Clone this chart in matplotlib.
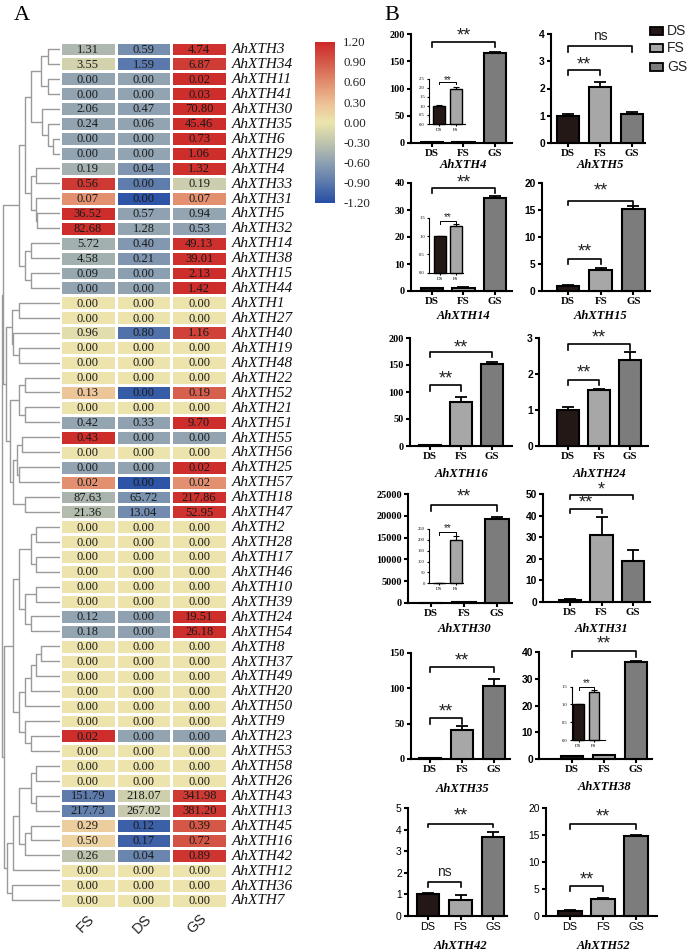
import numpy as np
import matplotlib
matplotlib.use('Agg')
import matplotlib.pyplot as plt
from matplotlib.colors import LinearSegmentedColormap
from matplotlib.patches import Rectangle
from matplotlib.cm import ScalarMappable
from matplotlib.colors import Normalize

# ---------------- data: heatmap ----------------
genes = ['AhXTH3', 'AhXTH34', 'AhXTH11', 'AhXTH41', 'AhXTH30', 'AhXTH35', 'AhXTH6', 'AhXTH29',
         'AhXTH4', 'AhXTH33', 'AhXTH31', 'AhXTH5', 'AhXTH32', 'AhXTH14', 'AhXTH38', 'AhXTH15',
         'AhXTH44', 'AhXTH1', 'AhXTH27', 'AhXTH40', 'AhXTH19', 'AhXTH48', 'AhXTH22', 'AhXTH52',
         'AhXTH21', 'AhXTH51', 'AhXTH55', 'AhXTH56', 'AhXTH25', 'AhXTH57', 'AhXTH18', 'AhXTH47',
         'AhXTH2', 'AhXTH28', 'AhXTH17', 'AhXTH46', 'AhXTH10', 'AhXTH39', 'AhXTH24', 'AhXTH54',
         'AhXTH8', 'AhXTH37', 'AhXTH49', 'AhXTH20', 'AhXTH50', 'AhXTH9', 'AhXTH23', 'AhXTH53',
         'AhXTH58', 'AhXTH26', 'AhXTH43', 'AhXTH13', 'AhXTH45', 'AhXTH16', 'AhXTH42', 'AhXTH12',
         'AhXTH36', 'AhXTH7']
stages = ['FS', 'DS', 'GS']
FS = [1.31, 3.55, 0.00, 0.00, 2.06, 0.24, 0.00, 0.00, 0.19, 0.56, 0.07, 36.52, 82.68, 5.72, 4.58, 0.09,
      0.00, 0.00, 0.00, 0.96, 0.00, 0.00, 0.00, 0.13, 0.00, 0.42, 0.43, 0.00, 0.00, 0.02, 87.63, 21.36,
      0.00, 0.00, 0.00, 0.00, 0.00, 0.00, 0.12, 0.18, 0.00, 0.00, 0.00, 0.00, 0.00, 0.00, 0.02, 0.00,
      0.00, 0.00, 151.79, 217.73, 0.29, 0.50, 0.26, 0.00, 0.00, 0.00]
DS = [0.59, 1.59, 0.00, 0.00, 0.47, 0.06, 0.00, 0.00, 0.04, 0.00, 0.00, 0.57, 1.28, 0.40, 0.21, 0.00,
      0.00, 0.00, 0.00, 0.80, 0.00, 0.00, 0.00, 0.00, 0.00, 0.33, 0.00, 0.00, 0.00, 0.00, 65.72, 13.04,
      0.00, 0.00, 0.00, 0.00, 0.00, 0.00, 0.00, 0.00, 0.00, 0.00, 0.00, 0.00, 0.00, 0.00, 0.00, 0.00,
      0.00, 0.00, 218.07, 267.02, 0.12, 0.17, 0.04, 0.00, 0.00, 0.00]
GS = [4.74, 6.87, 0.02, 0.03, 70.80, 45.46, 0.73, 1.06, 1.32, 0.19, 0.07, 0.94, 0.53, 49.13, 39.01, 2.13,
      1.42, 0.00, 0.00, 1.16, 0.00, 0.00, 0.00, 0.19, 0.00, 9.70, 0.00, 0.00, 0.02, 0.02, 217.86, 52.95,
      0.00, 0.00, 0.00, 0.00, 0.00, 0.00, 19.51, 26.18, 0.00, 0.00, 0.00, 0.00, 0.00, 0.00, 0.00, 0.00,
      0.00, 0.00, 341.98, 381.20, 0.39, 0.72, 0.89, 0.00, 0.00, 0.00]
cbar_ticks = [1.2, 0.9, 0.6, 0.3, 0.0, -0.3, -0.6, -0.9, -1.2]


# dendrogram merges: (merge position in px from left, child, child); ints are leaf rows
def N(x, a, b):
    return (x, a, b)


top_a = N(41, N(48, 0, 1), N(48, 2, 3))
top_b = N(42, 4, N(48, 5, N(53, 6, 7)))
top_c = N(31, N(36, 8, 9), N(36, 10, N(37, 11, 12)))
top_d = N(25, N(31, 13, 14), N(31, 15, 16))
seg1 = N(19, N(25, N(31, top_a, top_b), top_c), top_d)

mid_e = N(12, N(19, 17, 18), N(13, 19, N(19, 20, 21)))
mid_f = N(19, N(25, 22, 23), N(25, 24, 25))
mid_g = N(13, N(17, N(22, 26, 27), N(19, 28, 29)), N(25, 30, 31))
seg2 = N(6, mid_e, N(10, mid_f, mid_g))

low_p = N(19, N(31, N(36, 32, 33), N(36, 34, 35)), N(25, N(36, 36, 37), N(31, 38, 39)))
low_q = N(19, N(25, N(31, N(36, N(41, 40, 41), 42), 43), 44), N(25, 45, N(31, 46, 47)))
low_r = N(19, N(31, N(36, 48, 49), N(36, 50, 51)), N(25, N(31, 52, 53), 54))
seg3 = N(4, N(13, low_p, low_q), N(7, N(13, low_r, 55), N(12, 56, 57)))
tree = N(2, N(3, seg1, seg2), seg3)

# ---------------- data: bar charts ----------------
bar_genes = ['AhXTH4', 'AhXTH5', 'AhXTH14', 'AhXTH15', 'AhXTH16', 'AhXTH24',
             'AhXTH30', 'AhXTH31', 'AhXTH35', 'AhXTH38', 'AhXTH42', 'AhXTH52']
bar_cats = ['DS', 'FS', 'GS']
bar_means = [[1.0, 1.95, 165.0], [1.0, 2.05, 1.05], [1.0, 1.27, 34.4], [1.0, 3.8, 15.2],
             [1.0, 82.0, 151.0], [1.0, 1.55, 2.38], [1.0, 200.0, 19300.0], [1.0, 31.0, 19.2],
             [1.0, 41.0, 104.0], [1.0, 1.35, 36.3], [1.0, 0.75, 3.68], [1.0, 3.2, 14.8]]
bar_errs = [[0.1, 0.1, 2.0], [0.08, 0.2, 0.08], [0.02, 0.05, 0.8], [0.05, 0.4, 0.5],
            [0.1, 9.0, 4.0], [0.07, 0.03, 0.22], [0.1, 15.0, 500.0], [0.3, 8.5, 5.0],
            [0.1, 5.0, 9.0], [0.02, 0.05, 0.4], [0.08, 0.22, 0.2], [0.1, 0.15, 0.2]]
bar_ymax = [200, 4, 40, 20, 200, 3, 25000, 50, 150, 40, 5, 20]
bar_ystep = [50, 1, 10, 5, 50, 1, 5000, 10, 50, 10, 1, 5]
# significance: (i, j, line level, drop level, label, label level)
bar_sig = [[(0, 2, 185, 176, '**', 197)],
           [(0, 2, 3.56, 3.35, 'ns', 3.92), (0, 1, 2.68, 2.5, '**', 2.88)],
           [(0, 2, 38.3, 36.4, '**', 40.0)],
           [(0, 2, 16.7, 15.9, '**', 18.6), (0, 1, 5.9, 5.0, '**', 7.2)],
           [(0, 2, 173.5, 165, '**', 182), (0, 1, 113, 102, '**', 125)],
           [(0, 2, 2.83, 2.67, '**', 2.99), (0, 1, 1.83, 1.69, '**', 2.02)],
           [(0, 2, 22477, 21170, '**', 24400)],
           [(0, 2, 49.5, 47.5, '*', 51.8), (0, 1, 43, 41, '**', 46.0)],
           [(0, 2, 130, 123, '**', 139), (0, 1, 57.4, 50, '**', 66)],
           [(0, 2, 40.3, 38, '**', 43.0)],
           [(0, 2, 4.26, 4.1, '**', 4.62), (0, 1, 1.58, 1.35, 'ns', 2.02)],
           [(0, 2, 17.0, 16.1, '**', 18.4), (0, 1, 5.5, 4.65, '**', 6.6)]]
# insets (DS, FS)
inset_genes = ['AhXTH4', 'AhXTH14', 'AhXTH30', 'AhXTH38']
inset_means = [[1.0, 1.95], [1.0, 1.27], [1.0, 200.0], [1.0, 1.35]]
inset_errs = [[0.08, 0.12], [0.01, 0.05], [0.1, 18.0], [0.01, 0.06]]
inset_ymax = [2.5, 1.5, 250, 1.5]
inset_ystep = [0.5, 0.5, 50, 0.5]
inset_sig = [(0, 1, 2.33, 2.2, '**', 2.45), (0, 1, 1.42, 1.33, '**', 1.53),
             (0, 1, 237, 222, '**', 255), (0, 1, 1.5, 1.42, '**', 1.6)]

# ---------------- layout / style ----------------
W, H = 688, 952
fig = plt.figure(figsize=(W / 100, H / 100), dpi=100)
SERIF = ['Liberation Serif', 'DejaVu Serif']
SANS = ['Liberation Sans', 'DejaVu Sans']


def add_ax(l, t, r, b):
    return fig.add_axes([l / W, 1 - b / H, (r - l) / W, (b - t) / H])


cmap = LinearSegmentedColormap.from_list('hm', [
    (0.000, (38 / 255, 78 / 255, 165 / 255)),
    (0.125, (92 / 255, 122 / 255, 172 / 255)),
    (0.250, (142 / 255, 161 / 255, 178 / 255)),
    (0.375, (192 / 255, 197 / 255, 173 / 255)),
    (0.500, (236 / 255, 229 / 255, 172 / 255)),
    (0.625, (236 / 255, 190 / 255, 148 / 255)),
    (0.750, (225 / 255, 140 / 255, 108 / 255)),
    (0.875, (212 / 255, 88 / 255, 72 / 255)),
    (1.000, (204 / 255, 40 / 255, 40 / 255))])

# ---------------- heatmap ----------------
vals = np.array([FS, DS, GS]).T
mu = vals.mean(axis=1, keepdims=True)
sd = vals.std(axis=1, ddof=1, keepdims=True)
z = np.where(sd > 0, (vals - mu) / np.where(sd > 0, sd, 1), 0.0)

HM_L, HM_T, HM_R, HM_B = 60, 41.5, 227, 907.7
axh = add_ax(HM_L, HM_T, HM_R, HM_B)
nrow = len(genes)
axh.pcolormesh(np.arange(4), np.arange(nrow + 1), z, cmap=cmap, vmin=-1.2, vmax=1.2,
               edgecolors='white', linewidth=0.9)
axh.set_xlim(0, 3)
axh.set_ylim(nrow, 0)
axh.axis('off')
for i in range(nrow):
    for j in range(3):
        axh.text(j + 0.5, i + 0.55, f'{vals[i, j]:.2f}', ha='center', va='center',
                 fontsize=9, family=SERIF, color='#1a1a1a')
    axh.text(3.09, i + 0.55, genes[i], ha='left', va='center', fontsize=11,
             family=SERIF, style='italic', color='#111111', clip_on=False)

for lab, xp in zip(stages, [86, 142, 197]):
    fig.text(xp / W, 1 - 924 / H, lab, rotation=45, ha='center', va='center',
             fontsize=10.5, family=SANS, color='#222222')

# dendrogram
axd = add_ax(0, HM_T, HM_L, HM_B)
axd.set_xlim(0, HM_L)
axd.set_ylim(nrow, 0)
axd.axis('off')
DCOL = '#9a9a9a'


def draw(node):
    if isinstance(node, int):
        return node + 0.5, HM_L
    x, a, b = node
    ya, xa = draw(a)
    yb, xb = draw(b)
    axd.plot([xa, x, x, xb], [ya, ya, yb, yb], color=DCOL, lw=1.0, solid_capstyle='butt')
    return (ya + yb) / 2, x


draw(tree)

# colorbar
axc = add_ax(315, 41.7, 335, 202.7)
sm = ScalarMappable(norm=Normalize(-1.2, 1.2), cmap=cmap)
cb = fig.colorbar(sm, cax=axc, ticks=cbar_ticks)
cb.outline.set_visible(False)
axc.tick_params(length=0, pad=6)
axc.set_yticklabels([f'{t:.2f}' for t in cbar_ticks], fontsize=9.3, family=SERIF, color='#222222')

fig.text(22 / W, 1 - 16 / H, 'A', fontsize=16, family=SERIF, ha='center', va='center')
fig.text(392 / W, 1 - 15 / H, 'B', fontsize=16, family=SERIF, ha='center', va='center')

# ---------------- bar charts ----------------
BAR_COLORS = ['#231815', '#a7a7a7', '#7c7c7c']
# (left px, right px, top px, bottom px, DS centre px, spacing px, title offset px)
bar_boxes = [(411, 512, 34, 143, 432, 31.5, 22), (551, 645, 34, 143, 568, 32, 22),
             (411, 512, 183, 291, 432, 31.5, 25), (542, 650, 183, 291, 568, 32.7, 25),
             (410, 512, 338, 446, 430, 31, 28), (539, 648, 338, 446, 568, 31, 28),
             (408, 512, 494, 603, 431, 33, 26), (543, 650, 494, 602, 570, 31.5, 27),
             (411, 510, 653, 759, 430, 32, 30), (539, 652, 652, 759, 572, 32, 28),
             (408, 507, 808, 916, 428, 32.5, 30), (546, 657, 808, 916, 570, 33, 30)]
ytick_font = [SERIF] * 12
ytick_weight = ['bold'] * 12
xtick_font = [SERIF] * 12
xtick_weight = ['bold'] * 12
for k in (1, 3, 5, 7, 9):
    ytick_font[k] = SANS
ytick_font[10] = SANS; ytick_weight[10] = 'normal'
ytick_font[11] = SANS; ytick_weight[11] = 'normal'
xtick_font[10] = SANS; xtick_weight[10] = 'normal'
xtick_font[11] = SANS; xtick_weight[11] = 'normal'


def style_bar_axes(ax, lw, tl):
    for s in ('top', 'right'):
        ax.spines[s].set_visible(False)
    for s in ('left', 'bottom'):
        ax.spines[s].set_linewidth(lw)
    ax.tick_params(direction='out', width=lw, length=tl, pad=1.5)
    ax.patch.set_alpha(0)


def draw_sig(ax, sig, lw, fs):
    i, j, yl, yd, lab, yt = sig
    ax.plot([i, i, j, j], [yd, yl, yl, yd], color='black', lw=lw, clip_on=False)
    ax.text((i + j) / 2, yt, lab, ha='center', va='center', fontsize=fs,
            family=SANS, clip_on=False, color='#222222')


for k, g in enumerate(bar_genes):
    L, R, T, B, c0, sp, toff = bar_boxes[k]
    ax = add_ax(L, T, R, B)
    x = np.arange(3)
    ax.bar(x, bar_means[k], width=0.7, color=BAR_COLORS, edgecolor='black', linewidth=1.5,
           clip_on=False, zorder=3)
    ax.errorbar(x, bar_means[k], yerr=[[0, 0, 0], bar_errs[k]], fmt='none', ecolor='black',
                elinewidth=1.3, capsize=4.5, capthick=1.3, zorder=2, clip_on=False)
    ax.set_xlim((L - c0) / sp, (R - c0) / sp)
    ax.set_ylim(0, bar_ymax[k])
    ax.set_yticks(np.arange(0, bar_ymax[k] + bar_ystep[k] / 2, bar_ystep[k]))
    ax.set_yticklabels([f'{v:g}' for v in ax.get_yticks()], fontsize=7.4,
                       family=ytick_font[k], fontweight=ytick_weight[k])
    ax.set_xticks(x)
    ax.set_xticklabels(bar_cats, fontsize=7.8, family=xtick_font[k], fontweight=xtick_weight[k])
    style_bar_axes(ax, 1.5, 3)
    for s in bar_sig[k]:
        draw_sig(ax, s, 1.2, 13 if s[4] != 'ns' else 10)
    fig.text((c0 + sp) / W, 1 - (B + toff) / H, g, ha='center', va='center', fontsize=9,
             family=SERIF, style='italic', fontweight='bold')

# insets
inset_boxes = [(429, 465, 79, 124, 439, 17), (429, 463, 217.7, 272.7, 440, 16),
               (429, 463, 529, 583.3, 439, 17), (571.7, 605, 686.7, 740, 578.5, 15.5)]
for k, g in enumerate(inset_genes):
    L, R, T, B, c0, sp = inset_boxes[k]
    ax = add_ax(L, T, R, B)
    x = np.arange(2)
    ax.bar(x, inset_means[k], width=0.7, color=BAR_COLORS[:2], edgecolor='black', linewidth=1.0,
           zorder=3, clip_on=False)
    ax.errorbar(x, inset_means[k], yerr=[[0, 0], inset_errs[k]], fmt='none', ecolor='black',
                elinewidth=0.8, capsize=2, capthick=0.8, zorder=2, clip_on=False)
    ax.set_xlim((L - c0) / sp, (R - c0) / sp)
    ax.set_ylim(0, inset_ymax[k])
    yt = np.arange(0, inset_ymax[k] + inset_ystep[k] / 2, inset_ystep[k])
    ax.set_yticks(yt)
    ax.set_yticklabels([(f'{v:.1f}' if inset_ymax[k] < 10 else f'{v:g}') for v in yt],
                       fontsize=3.3, family=SERIF)
    ax.set_xticks(x)
    ax.set_xticklabels(bar_cats[:2], fontsize=3.5, family=SERIF)
    style_bar_axes(ax, 0.8, 1.5)
    draw_sig(ax, inset_sig[k], 0.7, 7)

# legend
for lab, col, yc in zip(bar_cats, BAR_COLORS, [31, 48.3, 66.7]):
    fig.add_artist(Rectangle((650 / W, 1 - (yc + 4) / H), 12.5 / W, 8 / H, transform=fig.transFigure,
                             facecolor=col, edgecolor='black', linewidth=1.3))
    fig.text(667 / W, 1 - yc / H, lab, ha='left', va='center', fontsize=10, family=SANS,
             color='#222222')

fig.savefig('out.png', dpi=100)
